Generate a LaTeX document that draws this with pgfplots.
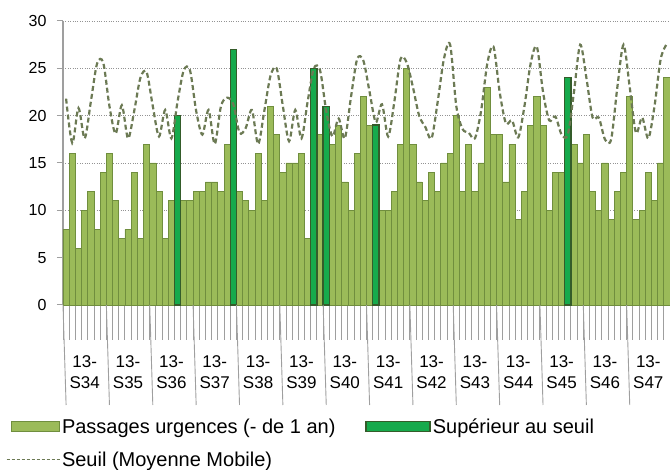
\documentclass[border=0pt]{standalone}
\usepackage{pgfplots}
\pgfplotsset{compat=1.18}
\usepackage{pgfplotstable}
\usepackage{fontspec}
\setmainfont{Liberation Sans}
\definecolor{barlight}{RGB}{155,187,89}
\definecolor{barlightedge}{RGB}{112,142,62}
\definecolor{bargreen}{RGB}{22,170,76}
\definecolor{bargreenedge}{RGB}{52,92,42}
\definecolor{seuil}{RGB}{108,122,84}

\pgfplotstableread{
x y
0 8
1 16
2 6
3 10
4 12
5 8
6 14
7 16
8 11
9 7
10 8
11 14
12 7
13 17
14 15
15 12
16 7
17 11
19 11
20 11
21 12
22 12
23 13
24 13
25 12
26 17
28 12
29 11
30 10
31 16
32 11
33 21
34 18
35 14
36 15
37 15
38 16
39 7
41 18
43 17
44 19
45 13
46 10
47 16
48 22
49 19
51 10
52 10
53 12
54 17
55 25
56 17
57 13
58 11
59 14
60 12
61 15
62 16
63 20
64 12
65 17
66 12
67 15
68 23
69 18
70 18
71 13
72 17
73 9
74 12
75 19
76 22
77 19
78 10
79 14
80 14
82 17
83 15
84 18
85 12
86 10
87 15
88 9
89 12
90 14
91 22
92 9
93 10
94 14
95 11
96 15
97 24
}\passages

\pgfplotstableread{
x y
18 20
27 27
40 25
42 21
50 19
81 24
}\superieur

\pgfplotstableread{
x y
0 21.8
1 17.1
2 20.8
3 17.6
4 21.5
5 25.5
6 25.6
7 21
8 18.1
9 21.1
10 17.6
11 20.5
12 24
13 24.6
14 21
15 17.8
16 20.6
17 17.6
18 21.5
19 24.8
20 24.8
21 20.5
22 18
23 20.6
24 17
25 21
26 21.9
27 21.2
28 18.2
29 18.7
30 20.6
31 17
32 20.5
33 24.2
34 25
35 21
36 17.3
37 20.6
38 17.6
39 21.5
40 25
41 24.8
42 20.5
43 17.8
44 19.7
45 17.6
46 22
47 26
48 25.8
49 22.5
50 19.3
51 21.2
52 17.8
53 21.5
54 26
55 25.6
56 23
57 20
58 18.8
59 17.6
60 21.5
61 26
62 27.5
63 21
64 18.6
65 18.2
66 17.6
67 20.5
68 25.5
69 27.3
70 22.5
71 19.2
72 19.5
73 17.7
74 21
75 25.5
76 27.3
77 22.5
78 19.5
79 19.9
80 18
81 18
82 22.5
83 27.5
84 24
85 19.8
86 19.8
87 17.5
88 17.5
89 23
90 27.5
91 23
92 18.2
93 19.8
94 17.6
95 21
96 26
97 27.6
}\seuiltab

\begin{document}
\begin{tikzpicture}
\begin{axis}[
  width=607pt, height=284pt, scale only axis,
  xmin=-0.5, xmax=97.5, ymin=0, ymax=30,
  clip=false,
  axis x line*=bottom, axis y line*=left,
  x axis line style={-, draw=gray!75, line width=1.2pt},
  y axis line style={-, draw=gray!75, line width=1.2pt},
  ytick={0,5,...,30},
  ymajorgrids,
  major grid style={dotted, gray!85, line width=0.9pt},
  tick align=outside,
  major tick length=6pt,
  minor tick length=35pt,
  ytick style={draw=gray!75, line width=1pt},
  xtick={3,10,...,94},
  xticklabels={{13-\\S34},{13-\\S35},{13-\\S36},{13-\\S37},{13-\\S38},{13-\\S39},{13-\\S40},{13-\\S41},{13-\\S42},{13-\\S43},{13-\\S44},{13-\\S45},{13-\\S46},{13-\\S47}},
  major x tick style={draw=none},
  minor xtick={-0.5,0.5,...,97.5},
  minor x tick style={draw=gray!75, line width=0.9pt},
  /pgf/number format/assume math mode=true,
  yticklabel style={font=\fontsize{16}{19}\selectfont, xshift=-7pt},
  xticklabel style={font=\fontsize{17}{21}\selectfont, align=center, yshift=-41pt},
  legend columns=2,
  legend cell align=left,
  legend style={at={(axis description cs:-0.099,-0.385)}, anchor=north west,
    draw=none, fill=none, font=\fontsize{20}{23}\selectfont,
    /tikz/every even column/.append style={column sep=28pt},
    row sep=13pt},
]
\addplot[ybar, bar width=1, bar shift=0pt, fill=barlight, draw=barlightedge, line width=0.8pt,
  legend image code/.code={\draw[fill=barlight, draw=barlightedge, line width=0.8pt] (0pt,-5pt) rectangle (48pt,5pt);}]
  table[x=x,y=y] {\passages};
\addlegendentry{Passages urgences (- de 1 an)}
\addplot[ybar, bar width=1, bar shift=0pt, fill=bargreen, draw=bargreenedge, line width=1.3pt,
  legend image code/.code={\draw[fill=bargreen, draw=bargreenedge, line width=1.3pt] (0pt,-5pt) rectangle (64pt,5pt);}]
  table[x=x,y=y] {\superieur};
\addlegendentry{Supérieur au seuil}
\addplot[smooth, color=seuil, line width=2.2pt, dash pattern=on 5pt off 3pt,
  legend image code/.code={\draw[color=seuil, line width=0.9pt, dash pattern=on 3pt off 2pt] (-5pt,0pt) -- (48pt,0pt);}]
  table[x=x,y=y] {\seuiltab};
\addlegendentry{Seuil (Moyenne Mobile)}
\pgfplotsinvokeforeach{0,...,13}{
  \draw[gray!75, line width=0.9pt] (axis cs:{#1*7-0.5},0) -- ++(0,-100pt);
}
\coordinate (bl) at (rel axis cs:0,0);
\end{axis}
\pgfresetboundingbox
\path[use as bounding box] ([shift={(-63pt,-165pt)}]bl) rectangle ([shift={(607pt,305pt)}]bl);
\end{tikzpicture}
\end{document}
